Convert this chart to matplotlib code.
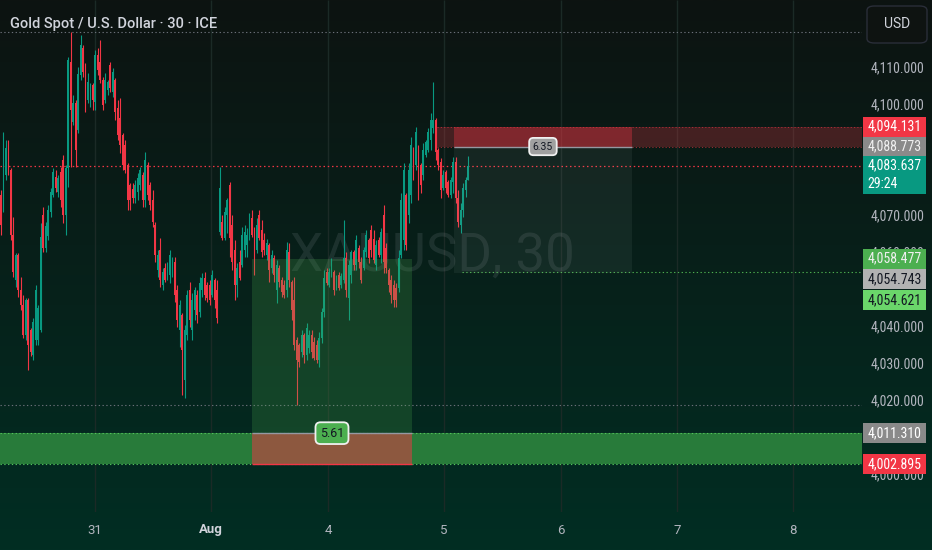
import matplotlib
matplotlib.use("Agg")
import matplotlib.pyplot as plt
import matplotlib.transforms as mtransforms
from matplotlib.patches import Rectangle, FancyBboxPatch
from matplotlib import font_manager
import numpy as np

# 30-minute candles (oldest first)
opens = [4075.7, 4073.0, 4081.1, 4088.4, 4082.4, 4064.9, 4052.7, 4059.5, 4050.0, 4045.9,
         4037.8, 4047.3, 4039.2, 4032.4, 4036.5, 4036.5, 4039.2, 4070.3, 4061.4, 4064.6,
         4071.1, 4075.7, 4080.5, 4076.5, 4081.9, 4085.1, 4070.3, 4083.0, 4111.6, 4095.4,
         4100.5, 4093.2, 4108.1, 4115.4, 4108.9, 4101.4, 4102.7, 4105.4, 4100.8, 4113.5,
         4111.6, 4106.8, 4101.4, 4104.1, 4110.8, 4103.5, 4106.8, 4099.2, 4096.5, 4091.9,
         4089.2, 4083.8, 4078.4, 4077.3, 4074.9, 4076.5, 4078.4, 4081.1, 4074.3, 4083.8,
         4078.4, 4074.3, 4067.6, 4055.4, 4060.8, 4051.4, 4055.9, 4053.2, 4054.1, 4055.9,
         4057.6, 4050.0, 4039.2, 4043.2, 4025.7, 4037.8, 4050.0, 4039.2, 4044.6, 4048.6,
         4044.1, 4050.0, 4053.2, 4051.4, 4051.4, 4048.6, 4052.7, 4050.0, 4065.7, 4068.4,
         4064.1, 4070.3, 4078.4, 4067.6, 4060.8, 4051.4, 4057.6, 4056.8, 4060.8, 4062.2,
         4064.9, 4069.5, 4064.9, 4060.8, 4070.3, 4066.2, 4063.5, 4059.5, 4062.2, 4055.9,
         4058.6, 4050.0, 4055.9, 4052.7, 4051.4, 4050.0, 4060.3, 4052.2, 4047.3, 4036.5,
         4035.1, 4033.2, 4037.8, 4032.4, 4034.3, 4037.8, 4035.9, 4035.1, 4031.1, 4037.0,
         4044.1, 4054.9, 4051.4, 4054.1, 4054.9, 4050.5, 4054.1, 4051.4, 4052.7, 4058.6,
         4047.8, 4054.1, 4060.3, 4056.8, 4061.4, 4057.6, 4055.9, 4060.3, 4063.5, 4066.2,
         4063.8, 4056.8, 4063.5, 4059.5, 4070.3, 4061.4, 4055.4, 4052.7, 4051.4, 4050.5,
         4050.5, 4059.5, 4063.5, 4075.7, 4070.3, 4075.7, 4087.8, 4083.8, 4087.8, 4083.8,
         4081.1, 4086.5, 4087.8, 4090.5, 4093.8, 4095.9, 4087.8, 4084.6, 4077.6, 4081.9,
         4079.2, 4075.7, 4079.2, 4084.6, 4074.9, 4067.6, 4071.6, 4077.0, 4079.7]
highs = [4077.0, 4092.7, 4090.5, 4090.5, 4083.0, 4069.7, 4060.0, 4060.0, 4053.5, 4048.6,
         4047.8, 4047.8, 4039.7, 4042.4, 4051.4, 4046.0, 4068.1, 4072.4, 4068.4, 4073.0,
         4077.6, 4083.0, 4082.4, 4081.1, 4083.2, 4086.5, 4083.8, 4113.0, 4119.7, 4102.7,
         4101.4, 4110.3, 4118.9, 4116.2, 4111.4, 4108.6, 4106.0, 4106.0, 4114.9, 4115.4,
         4117.6, 4107.6, 4108.6, 4106.8, 4111.6, 4110.0, 4107.3, 4101.4, 4101.9, 4092.4,
         4090.5, 4084.3, 4078.9, 4078.9, 4079.7, 4081.6, 4083.2, 4081.9, 4087.3, 4084.6,
         4079.2, 4077.0, 4068.4, 4060.8, 4064.1, 4055.9, 4057.3, 4057.6, 4060.8, 4058.9,
         4058.9, 4051.4, 4047.3, 4043.8, 4040.5, 4050.0, 4052.2, 4049.2, 4050.8, 4050.0,
         4053.5, 4054.6, 4054.9, 4052.2, 4052.7, 4055.4, 4053.2, 4052.7, 4083.2, 4070.3,
         4072.4, 4074.9, 4079.2, 4070.3, 4063.5, 4057.3, 4060.8, 4067.0, 4067.6, 4066.8,
         4070.8, 4071.6, 4067.0, 4069.5, 4071.6, 4068.9, 4065.4, 4063.8, 4062.7, 4060.8,
         4059.5, 4058.1, 4056.8, 4053.5, 4052.7, 4063.0, 4062.7, 4052.7, 4053.5, 4037.3,
         4035.7, 4039.2, 4038.4, 4041.1, 4039.2, 4039.2, 4037.3, 4036.5, 4038.6, 4045.1,
         4055.4, 4055.9, 4055.9, 4058.6, 4055.4, 4054.1, 4054.9, 4054.6, 4068.9, 4060.3,
         4058.1, 4060.8, 4060.8, 4064.9, 4062.2, 4058.9, 4061.6, 4066.2, 4064.1, 4067.6,
         4066.2, 4063.5, 4064.3, 4066.8, 4073.0, 4062.7, 4055.9, 4054.1, 4052.7, 4051.9,
         4060.8, 4076.2, 4084.3, 4076.2, 4084.3, 4091.4, 4088.6, 4094.1, 4089.2, 4084.3,
         4089.7, 4090.5, 4093.8, 4097.8, 4106.2, 4096.5, 4088.4, 4085.7, 4082.4, 4082.4,
         4079.7, 4080.5, 4085.9, 4085.9, 4077.0, 4073.5, 4078.9, 4080.5, 4086.2]
lows = [4064.9, 4071.0, 4079.7, 4081.1, 4063.5, 4053.5, 4050.8, 4048.1, 4044.6, 4037.0,
        4036.5, 4028.4, 4032.2, 4031.1, 4035.1, 4035.1, 4038.6, 4060.3, 4060.3, 4063.5,
        4069.7, 4075.1, 4076.5, 4075.1, 4072.4, 4068.1, 4064.9, 4077.8, 4083.2, 4094.6,
        4083.2, 4092.4, 4106.8, 4107.6, 4098.1, 4100.5, 4099.5, 4098.6, 4098.6, 4108.1,
        4106.0, 4098.6, 4100.5, 4102.7, 4103.5, 4102.2, 4095.9, 4090.5, 4087.0, 4082.4,
        4081.6, 4071.6, 4071.6, 4073.5, 4073.5, 4074.3, 4077.0, 4072.4, 4072.4, 4074.3,
        4071.6, 4067.0, 4057.6, 4053.5, 4050.8, 4050.0, 4052.2, 4052.7, 4051.9, 4053.5,
        4046.8, 4040.0, 4034.6, 4021.6, 4020.8, 4036.5, 4040.0, 4036.5, 4041.9, 4041.1,
        4042.7, 4048.1, 4047.3, 4046.8, 4045.9, 4048.1, 4045.1, 4041.1, 4064.9, 4063.5,
        4063.5, 4065.4, 4058.9, 4055.4, 4047.3, 4048.1, 4052.7, 4056.2, 4058.9, 4058.9,
        4063.5, 4064.3, 4054.1, 4060.0, 4063.5, 4058.9, 4059.5, 4058.1, 4052.2, 4054.6,
        4052.2, 4046.5, 4050.8, 4048.1, 4047.8, 4048.1, 4050.8, 4041.9, 4033.8, 4018.9,
        4029.2, 4031.9, 4030.3, 4031.1, 4033.0, 4031.6, 4031.1, 4030.3, 4029.2, 4035.7,
        4042.7, 4051.4, 4050.8, 4053.5, 4048.6, 4050.0, 4050.0, 4050.5, 4051.9, 4048.1,
        4041.9, 4051.9, 4055.4, 4055.4, 4055.9, 4051.9, 4055.4, 4058.9, 4057.3, 4058.9,
        4057.3, 4055.4, 4058.9, 4057.3, 4054.6, 4054.6, 4049.5, 4046.5, 4045.4, 4045.4,
        4049.5, 4058.6, 4060.8, 4060.8, 4068.1, 4073.5, 4079.7, 4082.4, 4074.3, 4076.2,
        4079.7, 4085.9, 4087.3, 4087.8, 4092.4, 4085.1, 4082.4, 4074.9, 4077.0, 4076.2,
        4075.1, 4074.9, 4076.2, 4073.5, 4067.0, 4065.4, 4069.7, 4075.1, 4079.7]
closes = [4067.6, 4083.8, 4088.4, 4082.4, 4064.9, 4054.9, 4059.5, 4050.0, 4045.9, 4037.8,
          4047.3, 4035.1, 4033.2, 4041.4, 4050.0, 4045.1, 4064.3, 4061.4, 4067.3, 4071.6,
          4076.5, 4081.9, 4077.6, 4080.3, 4074.3, 4070.3, 4083.0, 4112.2, 4098.6, 4100.5,
          4087.8, 4108.4, 4116.2, 4108.9, 4100.0, 4106.2, 4105.4, 4101.4, 4113.5, 4109.5,
          4106.8, 4100.0, 4106.8, 4106.2, 4104.6, 4108.9, 4098.1, 4091.9, 4089.2, 4083.8,
          4082.4, 4074.3, 4074.3, 4074.9, 4078.4, 4080.3, 4082.4, 4074.3, 4085.1, 4075.7,
          4073.0, 4068.4, 4059.5, 4059.5, 4052.7, 4054.9, 4052.7, 4056.5, 4059.5, 4057.6,
          4048.6, 4041.9, 4045.9, 4033.8, 4039.2, 4048.6, 4041.9, 4047.3, 4050.0, 4043.2,
          4051.9, 4053.2, 4048.6, 4047.8, 4047.3, 4054.1, 4047.3, 4042.4, 4077.6, 4064.1,
          4071.1, 4074.3, 4064.1, 4057.6, 4051.4, 4055.9, 4053.2, 4064.9, 4065.7, 4064.9,
          4069.5, 4064.9, 4058.1, 4067.6, 4064.1, 4060.3, 4060.8, 4062.7, 4055.4, 4059.5,
          4054.1, 4056.8, 4052.2, 4049.5, 4048.6, 4060.8, 4052.7, 4044.6, 4035.1, 4031.1,
          4030.5, 4037.8, 4032.4, 4039.7, 4037.8, 4033.2, 4031.6, 4031.1, 4037.0, 4044.1,
          4053.2, 4051.9, 4054.9, 4057.6, 4050.0, 4053.2, 4050.5, 4053.8, 4058.6, 4050.0,
          4056.8, 4060.3, 4056.8, 4063.5, 4057.6, 4052.7, 4060.8, 4064.9, 4058.6, 4060.8,
          4058.1, 4062.2, 4059.5, 4065.7, 4057.6, 4055.9, 4051.4, 4048.6, 4047.3, 4047.3,
          4058.6, 4074.3, 4082.4, 4062.2, 4082.4, 4089.2, 4081.1, 4092.7, 4077.0, 4078.4,
          4087.8, 4090.0, 4092.7, 4095.9, 4095.9, 4087.3, 4083.8, 4077.0, 4081.1, 4077.6,
          4075.7, 4079.7, 4084.6, 4074.9, 4068.4, 4071.6, 4077.6, 4079.7, 4083.637]

# time axis (positions in bar units)
day_ticks = [37.8, 84.5, 131.6, 178.3, 225.4, 272.0, 318.7]
day_labels = ["31", "Aug", "4", "5", "6", "7", "8"]

# price axis ticks
price_ticks = [4000, 4020, 4030, 4040, 4060, 4070, 4100, 4110]

# drawings
zone_low, zone_high = 4002.895, 4011.310          # green support zone
long_start, long_end = 101.0, 165.4
long_entry, long_target, long_stop = 4011.310, 4058.477, 4002.895
short_start, short_end = 182.3, 253.9
short_entry, short_stop, short_target = 4088.773, 4094.131, 4054.621
rect_start = 175.5
target_line, target_line_start = 4054.743, 185.5
long_label, short_label = "5.61", "6.35"

# price labels on the right scale: price, text, box colour, text colour, push down (px)
axis_labels = [
    (4094.131, "4,094.131", "#f23645", "#ffffff", 0),
    (4088.773, "4,088.773", "#8a8a8a", "#f0f0f0", 0),
    (4058.477, "4,058.477", "#4caf50", "#f0f0f0", 0),
    (4054.743, "4,054.743", "#b2b2b2", "#131722", 7),
    (4054.621, "4,054.621", "#6ad66a", "#131722", 27),
    (4011.310, "4,011.310", "#8a8a8a", "#ffffff", 0),
    (4002.895, "4,002.895", "#f23645", "#ffffff", 0),
]
countdown = "29:24"

UP, DOWN = "#089981", "#f23645"
TXT = "#b2b5be"

names = {f.name for f in font_manager.fontManager.ttflist}
narrow = next((n for n in ["Roboto Condensed", "Liberation Sans Narrow"] if n in names), None)
lbl_font = narrow or "Roboto"
lbl_size = 10 if narrow else 8.5
plt.rcParams["font.family"] = ["Roboto", "DejaVu Sans"]

W, H = 932, 550
PLOT_W, PLOT_H = 862, 512
fig = plt.figure(figsize=(W / 100, H / 100), dpi=100)

# background gradient
bg = fig.add_axes([0, 0, 1, 1], zorder=-10)
top = np.array([13, 19, 17]) / 255
bot = np.array([1, 46, 35]) / 255
t = np.linspace(0, 1, 256)[:, None]
grad = top * (1 - t) + bot * t
bg.imshow(grad[:, None, :], aspect="auto", extent=[0, 1, 0, 1])
bg.set_axis_off()

ylim = (3990.0, 4128.38)
ppu = PLOT_H / (ylim[1] - ylim[0])   # pixels per price unit

ax = fig.add_axes([0, 1 - PLOT_H / H, PLOT_W / W, PLOT_H / H])
ax.patch.set_alpha(0)
ax.set_xlim(-0.4, 346.5)
ax.set_ylim(*ylim)
ax.set_axis_off()

# vertical grid
ax.vlines(day_ticks, ylim[0], ylim[1], color="#1b2a26", lw=1, zorder=0)

# watermark
ax.text(0.502, 0.5, "XAUUSD, 30", transform=ax.transAxes, ha="center", va="center",
        fontsize=38, color="#cfd3dc", alpha=0.11, zorder=1)

# candles
o = np.array(opens); c = np.array(closes); h = np.array(highs); l = np.array(lows)
x = np.arange(len(c))
cols = np.where(c >= o, UP, DOWN)
ax.vlines(x, l, h, colors=cols, lw=0.8, zorder=3)
ax.bar(x, np.maximum(np.abs(c - o), 0.35), bottom=np.minimum(o, c), width=0.75,
       color=cols, lw=0, zorder=3)

# high / low / last price lines
dot = (0, (1.2, 2.2))
ax.axhline(h.max(), color="#6a6f78", ls=dot, lw=0.8, zorder=2)
ax.axhline(l.min(), color="#6a6f78", ls=dot, lw=0.8, zorder=2)
ax.axhline(c[-1], color=DOWN, ls=dot, lw=0.9, zorder=2)

# green zone
ax.axhspan(zone_low, zone_high, color="#287b3a", lw=0, zorder=2)
ax.axhline(zone_high, color="#52c45a", ls=dot, lw=0.8, zorder=2)
ax.axhline(zone_low, color="#52c45a", ls=dot, lw=0.8, zorder=2)

# red rectangle zone extending to the right
x_right = ax.get_xlim()[1]
ax.add_patch(Rectangle((rect_start, short_entry), x_right - rect_start, short_stop - short_entry,
                       fc=DOWN, alpha=0.25, lw=0, zorder=2))
ax.hlines([short_entry, short_stop], rect_start, x_right, color=DOWN, ls=dot, lw=0.7,
          alpha=0.6, zorder=2)

# target line
ax.hlines(target_line, target_line_start, x_right, color="#4caf50", ls=dot, lw=0.8, zorder=2)

# long position
lw_ = long_end - long_start
ax.add_patch(Rectangle((long_start, long_entry), lw_, long_target - long_entry,
                       fc="#4caf50", alpha=0.22, lw=0, zorder=4))
ax.add_patch(Rectangle((long_start, long_stop), lw_, long_entry - long_stop,
                       fc=DOWN, alpha=0.5, lw=0, zorder=4))
ax.hlines(long_entry, long_start, long_end, color="#9598a1", lw=1, zorder=5)
ax.hlines(long_stop, long_start, long_end, color=DOWN, lw=1, zorder=5)
ax.text((long_start + long_end) / 2, long_entry, long_label, ha="center", va="center",
        fontsize=9, color="#131722", zorder=6,
        bbox=dict(boxstyle="round,pad=0.35,rounding_size=0.4", fc="#4caf50", ec="#f0f0f0", lw=1.3))

# short position
sw = short_end - short_start
ax.add_patch(Rectangle((short_start, short_entry), sw, short_stop - short_entry,
                       fc=DOWN, alpha=0.34, lw=0, zorder=4))
ax.add_patch(Rectangle((short_start, short_target), sw, short_entry - short_target,
                       fc="#b8ccc4", alpha=0.07, lw=0, zorder=4))
ax.hlines(short_entry, short_start, short_end, color="#9598a1", lw=1, zorder=5)
ax.text((short_start + short_end) / 2, short_entry, short_label, ha="center", va="center",
        fontsize=7.5, color="#131722", zorder=6,
        bbox=dict(boxstyle="round,pad=0.35,rounding_size=0.4", fc="#a0a0a0", ec="#f0f0f0", lw=1.3))

# time labels
tr = mtransforms.blended_transform_factory(ax.transData, ax.transAxes)
for xi, lab in zip(day_ticks, day_labels):
    bold = lab == "Aug"
    ax.text(xi, (PLOT_H - 530) / PLOT_H, lab, transform=tr, ha="center", va="center",
            fontsize=9.5, color="#d1d4dc" if bold else TXT,
            fontweight="bold" if bold else "normal", clip_on=False)

# right price scale
axr = fig.add_axes([PLOT_W / W, 1 - PLOT_H / H, (W - PLOT_W) / W, PLOT_H / H])
axr.patch.set_alpha(0)
axr.set_ylim(*ylim)
axr.set_xlim(0, 1)
axr.set_axis_off()
for p in price_ticks:
    axr.text(0.51, p, f"{p:,.3f}", ha="center", va="center", color=TXT,
             fontsize=lbl_size, family=lbl_font, zorder=2)

ytr = axr.get_yaxis_transform()
box_h = 20 / ppu
for price, text, fc, tc, push in axis_labels:
    yc = price - push / ppu
    axr.add_patch(Rectangle((0.014, yc - box_h / 2), 0.9, box_h, transform=ytr,
                            fc=fc, ec="none", zorder=3))
    axr.text(0.464, yc, text, transform=ytr, ha="center", va="center", color=tc,
             fontsize=lbl_size, family=lbl_font, zorder=4)

# last price with countdown
last = c[-1]
axr.add_patch(Rectangle((0.014, last - 28 / ppu), 0.9, 38 / ppu, transform=ytr,
                        fc=UP, ec="none", zorder=3))
axr.text(0.464, last, f"{last:,.3f}", transform=ytr, ha="center", va="center",
         color="#ffffff", fontsize=lbl_size, family=lbl_font, zorder=4)
axr.text(0.08, last - 18 / ppu, countdown, transform=ytr, ha="left", va="center",
         color="#ffffff", fontsize=lbl_size, family=lbl_font, zorder=4)

# currency button
fig.patches.append(FancyBboxPatch((867 / W, 1 - 43 / H), 60 / W, 37 / H,
                                  boxstyle="round,pad=0,rounding_size=0.008",
                                  transform=fig.transFigure, fc="#0e1311", ec="#2a2e39", lw=1))
fig.text(897 / W, 1 - 24 / H, "USD", ha="center", va="center", color="#d1d4dc", fontsize=10)

# title
fig.text(10 / W, 1 - 24 / H, "Gold Spot / U.S. Dollar · 30 · ICE", ha="left", va="center",
         color="#d1d4dc", fontsize=10.5, fontweight="medium")

fig.savefig("out.png", dpi=100)
